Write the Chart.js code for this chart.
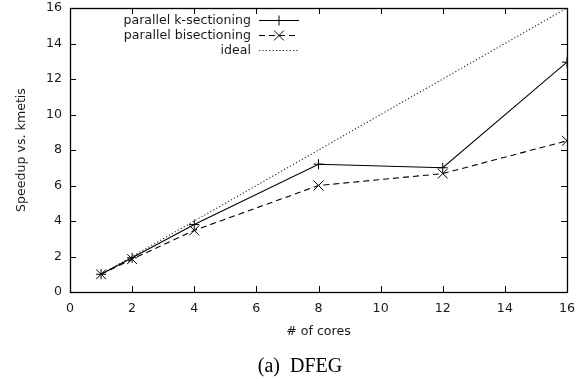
<!DOCTYPE html>
<html>
<head>
<meta charset="utf-8">
<script src="https://cdn.jsdelivr.net/npm/chart.js@4/dist/chart.umd.min.js"></script>
<style>
  html, body { margin: 0; padding: 0; background: #fff; }
  #wrap { width: 587px; height: 379px; position: relative; }
</style>
</head>
<body>
<div id="wrap"><canvas id="c" width="587" height="379"></canvas></div>
<script>
// Number of cores used in each run
const cores = [1, 2, 4, 8, 12, 16];
// Speedup over kmetis
const kSectioning = [1.0, 1.93, 3.8, 7.2, 7.0, 12.95];
const bisectioning = [1.0, 1.85, 3.47, 6.0, 6.67, 8.52];
const ideal = [1, 2, 4, 8, 12, 16];
// Axis tick values
const xTicks = [0, 2, 4, 6, 8, 10, 12, 14, 16];
const yTicks = [0, 2, 4, 6, 8, 10, 12, 14, 16];

const FONT = 'DejaVu Sans';
const INK = '#1a1a1a';

const pts = ys => cores.map((x, i) => ({ x: x, y: ys[i] }));

// Frame with inward tick marks on all four sides (mirrored)
const frameTicks = {
  id: 'frameTicks',
  afterDatasetsDraw(chart) {
    const { ctx, chartArea: a, scales } = chart;
    const len = 6;
    ctx.save();
    ctx.strokeStyle = '#000';
    ctx.lineWidth = 1;
    ctx.beginPath();
    xTicks.forEach(v => {
      const px = Math.round(scales.x.getPixelForValue(v)) + 0.5;
      ctx.moveTo(px, a.bottom); ctx.lineTo(px, a.bottom - len);
      ctx.moveTo(px, a.top); ctx.lineTo(px, a.top + len);
    });
    yTicks.forEach(v => {
      const py = Math.round(scales.y.getPixelForValue(v)) + 0.5;
      ctx.moveTo(a.left, py); ctx.lineTo(a.left + len, py);
      ctx.moveTo(a.right, py); ctx.lineTo(a.right - len, py);
    });
    ctx.stroke();
    ctx.lineWidth = 1.3;
    ctx.strokeRect(Math.round(a.left) + 0.5, Math.round(a.top) + 0.5,
                   Math.round(a.right - a.left), Math.round(a.bottom - a.top));
    ctx.restore();
  }
};

// Key in the upper left: label right-aligned, line sample to its right
const keyBox = {
  id: 'keyBox',
  afterDatasetsDraw(chart) {
    const { ctx } = chart;
    const textRight = 251, x0 = 259, x1 = 299, yStart = 20, step = 15;
    ctx.save();
    ctx.font = '12.6px "' + FONT + '"';
    ctx.textAlign = 'right';
    ctx.textBaseline = 'middle';
    chart.data.datasets.forEach((ds, i) => {
      const y = Math.round(yStart + i * step) + 0.5;
      ctx.fillStyle = INK;
      ctx.fillText(ds.label, textRight, y);
      ctx.strokeStyle = ds.borderColor;
      ctx.lineWidth = ds.borderWidth;
      ctx.setLineDash(ds.borderDash || []);
      ctx.beginPath();
      ctx.moveTo(x0, y);
      ctx.lineTo(x1, y);
      ctx.stroke();
      ctx.setLineDash([]);
      if (ds.pointRadius > 0) {
        ctx.strokeStyle = '#000';
        ctx.lineWidth = 1;
        Chart.helpers.drawPoint(ctx, {
          pointStyle: ds.pointStyle, radius: ds.pointRadius, rotation: 0,
          borderWidth: 1
        }, (x0 + x1) / 2, y);
      }
    });
    ctx.restore();
  }
};

// Figure caption under the plot
const caption = {
  id: 'caption',
  afterDraw(chart) {
    const { ctx } = chart;
    ctx.save();
    ctx.font = '20px "Liberation Serif"';
    ctx.fillStyle = '#000';
    ctx.textAlign = 'center';
    ctx.textBaseline = 'alphabetic';
    ctx.fillText('(a)  DFEG', 300, 372);
    ctx.restore();
  }
};

new Chart(document.getElementById('c'), {
  type: 'line',
  data: {
    datasets: [
      {
        label: 'parallel k-sectioning',
        data: pts(kSectioning),
        borderColor: '#000', backgroundColor: '#000', borderWidth: 1.1,
        pointStyle: 'cross', pointRadius: 5, pointBorderWidth: 1,
        pointBorderColor: '#000'
      },
      {
        label: 'parallel bisectioning',
        data: pts(bisectioning),
        borderColor: '#000', backgroundColor: '#000', borderWidth: 1.1,
        borderDash: [6, 4],
        pointStyle: 'crossRot', pointRadius: 7, pointBorderWidth: 1,
        pointBorderColor: '#000'
      },
      {
        label: 'ideal',
        data: pts(ideal),
        borderColor: '#222', borderWidth: 1.1,
        borderDash: [1.2, 2.2],
        pointRadius: 0
      }
    ]
  },
  options: {
    responsive: false,
    animation: false,
    layout: { padding: { left: 0, right: 20, top: 7, bottom: 40 } },
    plugins: {
      legend: { display: false },
      tooltip: { enabled: false }
    },
    scales: {
      x: {
        type: 'linear', min: 0, max: 16,
        afterBuildTicks: s => { s.ticks = xTicks.map(v => ({ value: v })); },
        afterFit: s => { s.height = 47; s.paddingLeft = 0; s.paddingRight = 0; },
        grid: { display: false, drawTicks: false },
        border: { display: false },
        ticks: { padding: 9, color: INK, font: { family: FONT, size: 12.6 } },
        title: {
          display: true, text: '# of cores', color: INK,
          font: { family: FONT, size: 12.6 }, padding: { top: 0, bottom: 0 }
        }
      },
      y: {
        type: 'linear', min: 0, max: 16,
        afterBuildTicks: s => { s.ticks = yTicks.map(v => ({ value: v })); },
        afterFit: s => { s.width = 70; s.paddingTop = 0; s.paddingBottom = 0; },
        grid: { display: false, drawTicks: false },
        border: { display: false },
        ticks: { padding: 8, color: INK, font: { family: FONT, size: 12.6 } },
        title: {
          display: true, text: 'Speedup vs. kmetis', color: INK,
          font: { family: FONT, size: 12.6 }, padding: { top: 14, bottom: 0 }
        }
      }
    }
  },
  plugins: [frameTicks, keyBox, caption]
});
</script>
</body>
</html>
